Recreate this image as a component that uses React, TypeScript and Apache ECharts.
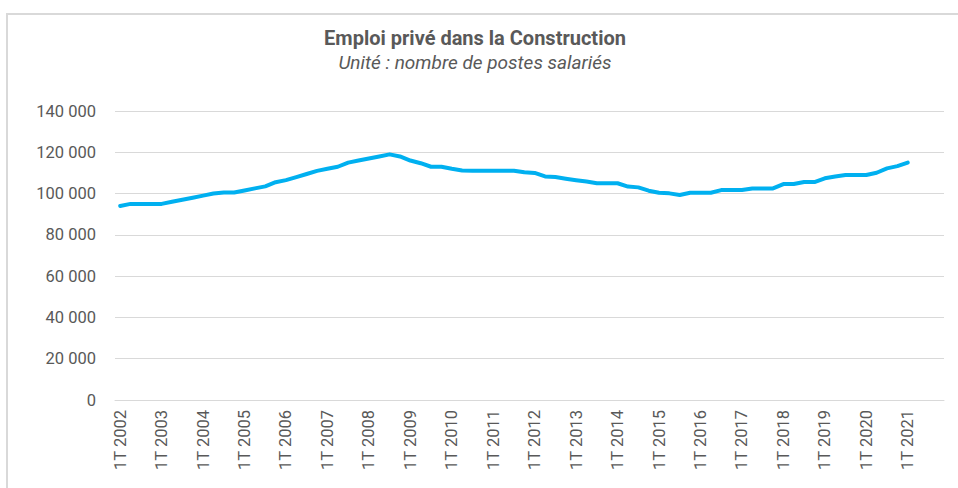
import React, { useEffect, useRef } from "react";
import * as echarts from "echarts";

const years = [2002, 2003, 2004, 2005, 2006, 2007, 2008, 2009, 2010, 2011, 2012, 2013, 2014, 2015, 2016, 2017, 2018, 2019, 2020, 2021];
const quarters = ["1T", "2T", "3T", "4T"];
const categories: string[] = [];
years.forEach((y) => quarters.forEach((q) => categories.push(`${q} ${y}`)));

// Quarterly private employment in construction, 1T 2002 → 1T 2021
const emploi: (number | null)[] = [
  94000, 95000, 95000, 95000,
  95000, 96000, 97000, 98000,
  99000, 100000, 100500, 100500,
  101500, 102500, 103500, 105500,
  106500, 108000, 109500, 111000,
  112000, 113000, 115000, 116000,
  117000, 118000, 119000, 118000,
  116000, 114700, 113000, 113000,
  112000, 111200, 111100, 111100,
  111100, 111100, 111100, 110300,
  110000, 108300, 108000, 107200,
  106500, 105800, 105000, 105000,
  105000, 103400, 103000, 101400,
  100400, 100100, 99300, 100400,
  100400, 100400, 101700, 101700,
  101700, 102500, 102500, 102500,
  104600, 104600, 105600, 105600,
  107400, 108300, 109000, 109000,
  109000, 110100, 112200, 113300,
  115000,
];

const yTicks = [0, 20000, 40000, 60000, 80000, 100000, 120000, 140000];

const fmt = (v: number) => String(v).replace(/\B(?=(\d{3})+(?!\d))/g, " ");

export default function App() {
  const ref = useRef<HTMLDivElement>(null);
  useEffect(() => {
    if (!ref.current) return;
    const chart = echarts.init(ref.current, null, { renderer: "svg" });
    const data = categories.map((_, i) => (i < emploi.length ? emploi[i] : null));
    chart.setOption({
      animation: false,
      backgroundColor: "#ffffff",
      textStyle: { fontFamily: "Roboto" },
      title: {
        text: "Emploi privé dans la Construction",
        subtext: "Unité : nombre de postes salariés",
        left: 470,
        textAlign: "center",
        top: 22,
        itemGap: 2,
        textStyle: { fontFamily: "Roboto", fontSize: 20, fontWeight: "bold", color: "#595959", lineHeight: 22 },
        subtextStyle: { fontFamily: "Roboto", fontSize: 19, fontStyle: "italic", color: "#595959", lineHeight: 22 },
      },
      graphic: [
        {
          type: "rect",
          shape: { x: 7, y: 14, width: 960, height: 490 },
          style: { fill: "none", stroke: "#d9d9d9", lineWidth: 2 },
          silent: true,
        },
      ],
      grid: { left: 115, right: 14, top: 111, bottom: 88, containLabel: false },
      xAxis: {
        type: "category",
        data: categories,
        boundaryGap: true,
        axisTick: { show: false },
        axisLine: { show: true, lineStyle: { color: "#d9d9d9", width: 1 } },
        axisLabel: {
          interval: 3,
          rotate: 90,
          color: "#595959",
          fontSize: 16.5,
          fontFamily: "Roboto",
          margin: 10,
        },
      },
      yAxis: {
        type: "value",
        min: yTicks[0],
        max: yTicks[yTicks.length - 1],
        interval: 20000,
        axisLine: { show: false },
        axisTick: { show: false },
        splitLine: { lineStyle: { color: "#d9d9d9", width: 1 } },
        axisLabel: {
          color: "#595959",
          fontSize: 16.5,
          fontFamily: "Roboto",
          margin: 19,
          formatter: (v: number) => fmt(v),
        },
      },
      series: [
        {
          type: "line",
          data,
          showSymbol: false,
          symbol: "none",
          lineStyle: { color: "#00b0f0", width: 4, cap: "round", join: "round" },
          connectNulls: false,
        },
      ],
    });
    return () => chart.dispose();
  }, []);
  return (
    <div
      ref={ref}
      style={{ position: "fixed", left: 0, top: 0, width: 958, height: 488, background: "#fff" }}
    />
  );
}
